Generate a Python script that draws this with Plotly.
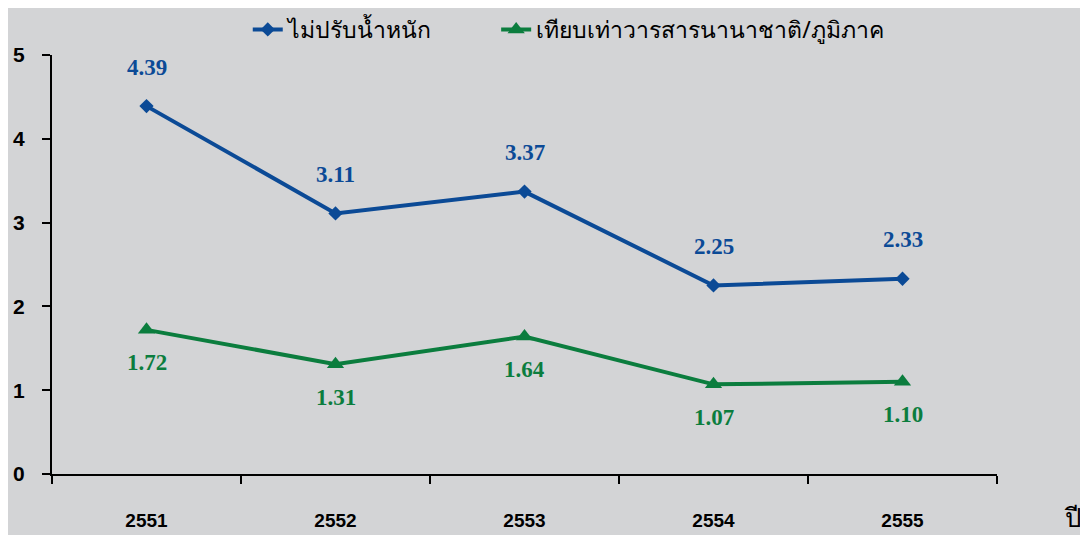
import plotly.graph_objects as go

# data
years = ["2551", "2552", "2553", "2554", "2555"]
unadjusted = [4.39, 3.11, 3.37, 2.25, 2.33]
ppp_adjusted = [1.72, 1.31, 1.64, 1.07, 1.10]

series_names = ["ไม่ปรับน้ำหนัก", "เทียบเท่าวารสารนานาชาติ/ภูมิภาค"]
y_ticks = [0, 1, 2, 3, 4, 5]

BLUE = "#0b4a96"
GREEN = "#0b7d3e"
BG = "#d3d4d6"

fig = go.Figure()
fig.add_trace(
    go.Scatter(
        x=years,
        y=unadjusted,
        name=series_names[0],
        legend="legend",
        mode="lines+markers",
        line=dict(color=BLUE, width=4),
        marker=dict(symbol="diamond", size=11, color=BLUE),
    )
)
fig.add_trace(
    go.Scatter(
        x=years,
        y=ppp_adjusted,
        name=series_names[1],
        legend="legend2",
        mode="lines+markers",
        line=dict(color=GREEN, width=4),
        marker=dict(symbol="triangle-up", size=15, color=GREEN),
    )
)

# value labels (category axis -> use index so "2551" is not read as a number)
label_font = dict(family="Liberation Serif, Times New Roman, serif", size=23)
for i, v in enumerate(unadjusted):
    fig.add_annotation(
        x=i, y=v, text=f"<b>{v:.2f}</b>", showarrow=False,
        yshift=39, font=dict(color=BLUE, **label_font),
    )
for i, v in enumerate(ppp_adjusted):
    fig.add_annotation(
        x=i, y=v, text=f"<b>{v:.2f}</b>", showarrow=False,
        yshift=-33, font=dict(color=GREEN, **label_font),
    )

# axis title at bottom right
fig.add_annotation(
    text="ปี", xref="paper", yref="paper", x=1.08, y=-0.105,
    xanchor="center", yanchor="middle",
    showarrow=False, font=dict(size=26, color="black"),
)

legend_style = dict(
    orientation="h",
    xref="container",
    yref="container",
    y=1.0,
    xanchor="left",
    yanchor="top",
    font=dict(family="Noto Sans, sans-serif", size=23, color="black"),
    bgcolor="rgba(0,0,0,0)",
)

# page body has an 8px margin, so the figure is 8px smaller than the window
fig.update_layout(
    width=1080,
    height=527,
    paper_bgcolor=BG,
    plot_bgcolor=BG,
    margin=dict(l=44, r=91, t=47, b=61, autoexpand=False),
    font=dict(family="Liberation Sans, Arial, sans-serif", color="black"),
    showlegend=True,
    legend=dict(x=0.222, **legend_style),
    legend2=dict(x=0.452, **legend_style),
    xaxis=dict(
        type="category",
        range=[-0.5, 4.5],
        automargin=False,
        showline=True,
        linecolor="black",
        linewidth=2,
        ticks="outside",
        tickson="boundaries",
        ticklen=8,
        tickwidth=2,
        tickcolor="black",
        showgrid=False,
        tickfont=dict(size=19, weight="bold", family="Liberation Sans, Arial, sans-serif"),
        ticklabelstandoff=28,
        zeroline=False,
    ),
    yaxis=dict(
        range=[0, 5],
        automargin=False,
        tickvals=y_ticks,
        showline=True,
        linecolor="black",
        linewidth=2,
        ticks="outside",
        ticklen=8,
        tickwidth=2,
        tickcolor="black",
        showgrid=False,
        zeroline=False,
        tickfont=dict(size=21, weight="bold", family="Liberation Sans, Arial, sans-serif"),
        ticklabelstandoff=13,
    ),
)

fig.write_html("out.html")
